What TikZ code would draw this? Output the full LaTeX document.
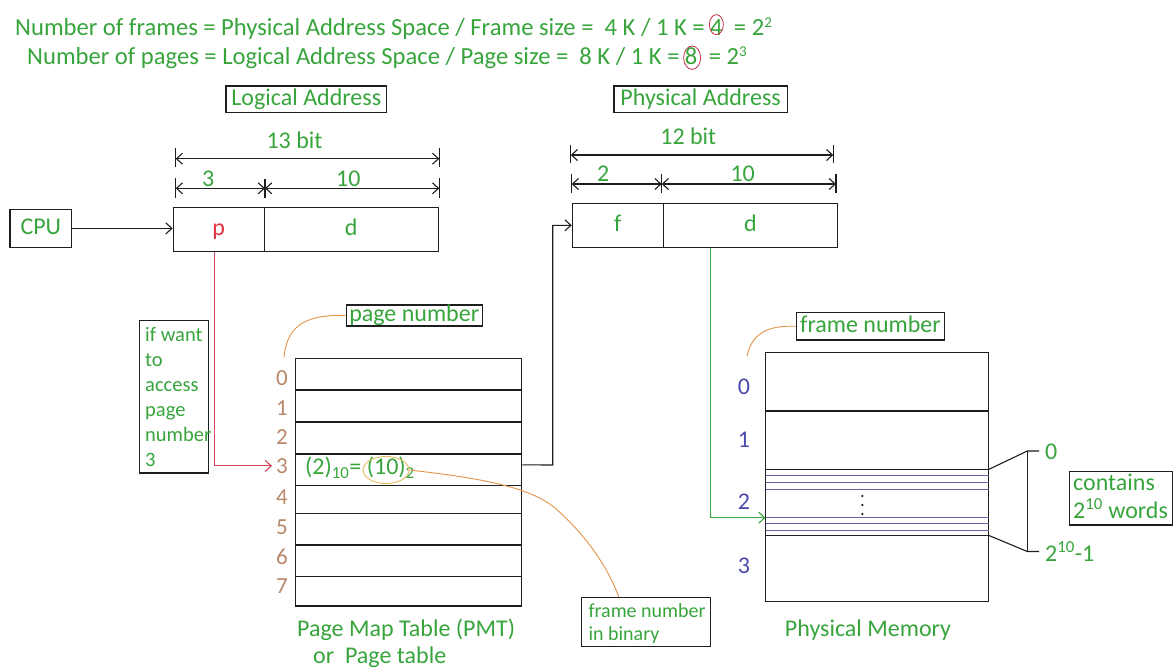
\documentclass[tikz,border=0pt]{standalone}
\usepackage{fontspec}
\setmainfont{Carlito}
\usetikzlibrary{arrows.meta,shapes.geometric,calc}

\definecolor{txtgreen}{RGB}{55,165,60}
\definecolor{pred}{RGB}{225,50,65}
\definecolor{redline}{RGB}{210,70,95}
\definecolor{pagebrown}{RGB}{185,135,105}
\definecolor{frameblue}{RGB}{75,75,175}
\definecolor{wordblue}{RGB}{100,100,170}
\definecolor{noteorange}{RGB}{228,148,72}
\definecolor{markyellow}{RGB}{228,188,95}
\definecolor{markred}{RGB}{200,50,75}
\definecolor{ink}{RGB}{30,30,30}

\newcommand\setfs[2]{\fontsize{#1pt}{#2pt}\selectfont}
% small raised exponent, top aligned with the digits
\newcommand\expo[1]{\raisebox{0.3em}{\setfs{15}{15}#1}}

\begin{document}
\begin{tikzpicture}[x=1pt,y=-1pt,
  >={Straight Barb[length=6pt,width=11pt]},
  every node/.style={inner sep=0pt, text=txtgreen, font=\setfs{24}{29}},
  headline/.style={anchor=base west, font=\setfs{24.6}{29}},
  box/.style={draw=ink, line width=1.1pt, text height=14.4pt, text depth=2.4pt},
  plainbox/.style={draw=ink, line width=1.1pt},
  conn/.style={draw=ink, line width=1.1pt},
  dimline/.style={draw=ink, line width=1.1pt, <->},
  dimtick/.style={draw=ink, line width=1.1pt},
  notecurve/.style={draw=noteorange, line width=0.9pt},
  pagelbl/.style={text=pagebrown, font=\setfs{23}{28}, anchor=base},
  framelbl/.style={text=frameblue, anchor=base},
  wordline/.style={draw=wordblue, line width=1pt},
  rowline/.style={draw=ink, line width=1.1pt},
]
\fill[white] (0,0) rectangle (1173,670);
\useasboundingbox (0,0) rectangle (1173,670);

% ---------- formulas at the top ----------
\node[headline] (nfA) at (15,35)
  {Number of frames = Physical Address Space / Frame size =\ \ 4 K / 1 K =};
\node[headline] (nfB) at ([xshift=5pt]nfA.base east) {4};
\node[headline] (nfC) at ([xshift=11pt]nfB.base east) {= 2\expo{2}};
\draw[markred, line width=0.8pt] ([yshift=2.5pt]nfB.center) ellipse (7 and 10);

\node[headline] (npA) at (27,64)
  {Number of pages = Logical Address Space / Page size =\ \ 8 K / 1 K =};
\node[headline] (npB) at ([xshift=5pt]npA.base east) {8};
\node[headline] (npC) at ([xshift=11pt]npB.base east) {= 2\expo{3}};
\draw[markred, line width=0.8pt] ([xshift=1pt,yshift=-2pt]npB.center) ellipse (8.5 and 11.7);

% ---------- logical address ----------
\node[box, minimum width=160.7pt, minimum height=26.7pt] (latitle) at (306.3,99.3) {Logical Address};
\node[box, minimum width=91pt, minimum height=44.5pt, text=pred] (lap) at (218.7,229.5) {p};
\node[box, minimum width=174pt, minimum height=44.5pt] (lad) at (351.2,229.5) {d};
\node[box, minimum width=61.7pt, minimum height=37.8pt] (cpu) at (40.8,228.4) {CPU};
\draw[conn,->] (cpu.east) -- (cpu.east -| lap.west);

% bit widths of the logical address
\draw[dimline] (175.7,158.7) -- (439.3,158.7);
\draw[dimtick] (175.7,148) -- (175.7,167) (439.3,148) -- (439.3,167);
\node[anchor=base] (lbits) at (294.5,148) {13 bit};
\draw[dimline] (175.7,188.3) -- (265,188.3);
\draw[dimline] (265,188.3) -- (439.3,188.3);
\draw[dimtick] (175.7,178) -- (175.7,198) (265,179) -- (265,198) (439.3,178) -- (439.3,198);
\node[anchor=base] (lpbits) at (208.3,186) {3};
\node[anchor=base] (ldbits) at (348.3,186) {10};

% ---------- physical address ----------
\node[box, minimum width=173.3pt, minimum height=26.7pt] (patitle) at (700.6,99.3) {Physical Address};
\node[box, minimum width=91pt, minimum height=44pt] (paf) at (617.8,225.3) {f};
\node[box, minimum width=174.4pt, minimum height=44pt] (pad) at (750.5,225.3) {d};

\draw[dimline] (570.7,155) -- (833.3,155);
\draw[dimtick] (570.7,145) -- (570.7,163) (833.3,145) -- (833.3,163);
\node[anchor=base] (pbits) at (688.3,144) {12 bit};
\draw[dimline] (571.7,184) -- (661.7,184);
\draw[dimline] (661.7,184) -- (836,184);
\draw[dimtick] (571.7,174) -- (571.7,193) (661.7,174) -- (661.7,193) (836,174) -- (836,193);
\node[anchor=base] (pfbits) at (603.3,181) {2};
\node[anchor=base] (pdbits) at (742.7,181) {10};

% ---------- page map table ----------
\foreach \i/\t/\b in {0/358.3/390,1/390/422,2/422/454,3/454/485.7,4/485.7/513.7,5/513.7/545,6/545/576.7,7/576.7/606}
  \node[plainbox, minimum width=226pt, minimum height={(\b-\t)*1pt}] (pmt\i) at (408.7,{(\t+\b)/2}) {};
\foreach \i/\y in {0/385,1/415,2/444,3/473.3,4/504,5/534,6/564,7/593}
  \node[pagelbl] (pn\i) at (282,\y) {\i};

\node[anchor=base west] (entry) at (305,474.5) {(2)\textsubscript{10}= (10)\textsubscript{2}};
\node[ellipse, draw=markyellow, line width=0.9pt, minimum width=46pt, minimum height=27pt] (mark10) at (386,470) {};

\node[box, minimum width=136.3pt, minimum height=21pt] (pnum) at (414.2,315.5) {page number};
\coordinate (pn0top) at (284,357);
\draw[notecurve] (pnum.west) .. controls (300,314) and (287,330) .. (pn0top);

\node[plainbox, minimum width=69pt, minimum height=152.3pt] (hint) at (173.8,396.85) {};
\node[anchor=base west, font=\setfs{20.5}{25}] (hinttext) at (145,341.7)
  {\begin{tabular}[t]{@{}l@{}}if want\\to\\access\\page\\number\\3\end{tabular}};

\draw[draw=redline, line width=1.1pt, ->] ([xshift=-4.4pt]lap.south) |- ([xshift=-4pt]pn3.west);

\node[anchor=base west, font=\setfs{24}{26.5}] (pmtcap) at (297,636.7)
  {\begin{tabular}[t]{@{}l@{}}Page Map Table (PMT)\\\hspace*{16pt}or\ \ Page table\end{tabular}};

% frame number from the table into the physical address
\coordinate (turn) at (552.7,465);
\draw[conn,->] ([yshift=5pt]pmt3.east) -- (turn) |- (paf.west);

% note on the binary frame number
\node[plainbox, minimum width=129pt, minimum height=49.4pt] (binbox) at (646.2,622) {};
\node[anchor=base west, font=\setfs{20}{22.7}] (bintext) at (588.3,617.3)
  {\begin{tabular}[t]{@{}l@{}}frame number\\in binary\end{tabular}};
\draw[notecurve] (mark10.east) .. controls (480,478) and (530,487) .. (555,508)
  .. controls (580,530) and (605,560) .. ([xshift=-27.5pt]binbox.north);

% ---------- physical memory ----------
\node[plainbox, minimum width=223pt, minimum height=249pt] (mem) at (877,476.8) {};
\draw[rowline] (765.5,411) -- (988.5,411);
\draw[rowline] (765.5,469.5) -- (988.5,469.5);
\draw[rowline] (765.5,535.3) -- (988.5,535.3);
\foreach \y in {475.7,482.3,489.3,517.7,523.3,530}
  \draw[wordline] (765.5,\y) -- (988.5,\y);
\foreach \y in {496,505,514}
  \fill[ink] (862.3,\y) circle (1.2);

\foreach \i/\y in {0/394.5,1/447.5,2/509,3/573}
  \node[framelbl] (fn\i) at (744,\y) {\i};

\node[box, minimum width=147.8pt, minimum height=27.3pt] (fnum) at (870.5,326.3) {frame number};
\coordinate (fn0top) at (747,356);
\draw[notecurve] (fnum.west) .. controls (765,325) and (752,335) .. (fn0top);

\coordinate (f2in) at (765.5,517.7);
\draw[draw=txtgreen, line width=1.1pt, ->] ([xshift=-39.8pt]pad.south) |- (f2in);

% words of one frame
\coordinate (bt) at (1027.3,451);
\coordinate (bb) at (1027.3,551.5);
\draw[conn] (988.5,469.5) -- (bt) -- (1039,451);
\draw[conn] (bt) -- (bb);
\draw[conn] (988.5,535.3) -- (bb) -- (1039,551.5);
\node[anchor=base west] (wfirst) at (1045,459) {0};
\node[anchor=base west] (wlast) at (1045,561.7) {2\textsuperscript{10}-1};

\node[plainbox, minimum width=103pt, minimum height=53.3pt] (cbox) at (1121,498.35) {};
\node[anchor=base west, font=\setfs{24}{28.3}] (ctext) at (1073,490)
  {\begin{tabular}[t]{@{}l@{}}contains\\2\textsuperscript{10} words\end{tabular}};

\node[anchor=base] (memcap) at (868,636) {Physical Memory};
\end{tikzpicture}
\end{document}
